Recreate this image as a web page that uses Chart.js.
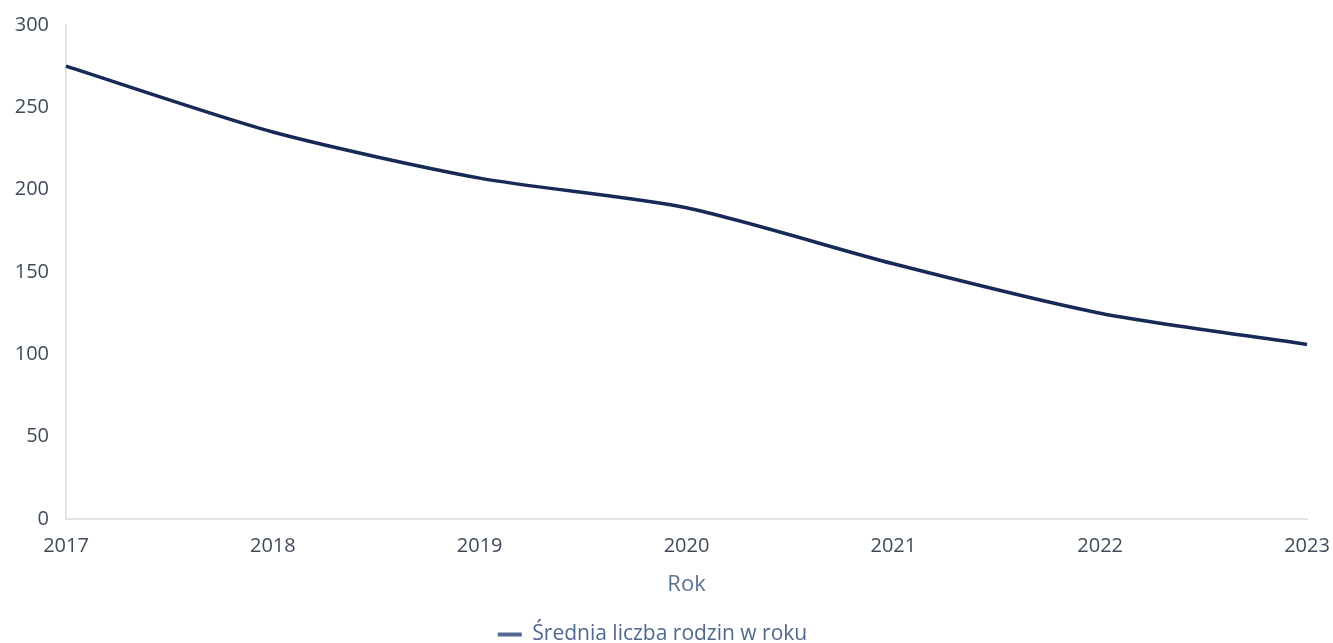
<!DOCTYPE html>
<html>
<head>
<meta charset="utf-8">
<script src="https://cdn.jsdelivr.net/npm/chart.js@4"></script>
<style>
  html, body { margin: 0; padding: 0; background: #fff; }
  #wrap { width: 1333px; height: 643px; }
</style>
</head>
<body>
<div id="wrap"><canvas id="chart"></canvas></div>
<script>
'use strict';

// ─── Data ─────────────────────────────────────────────────────────────────────

const years   = ['2017', '2018', '2019', '2020', '2021', '2022', '2023'];
const average = [275, 235, 207, 189, 155, 125, 106];
const yTicks  = [0, 50, 100, 150, 200, 250, 300];

const seriesLabel = 'Średnia liczba rodzin w roku';
const xTitle      = 'Rok';

// ─── Chart ────────────────────────────────────────────────────────────────────

const FONT = '"Open Sans", "DejaVu Sans", sans-serif';

// legend sits a little left of centre in the original
const legendNudge = {
  id: 'legendNudge',
  afterLayout(chart) {
    if (!chart.legend) return;
    chart.legend.left  -= 18;
    chart.legend.right -= 18;
  },
};

new Chart(document.getElementById('chart'), {
  type: 'line',
  data: {
    labels: years,
    datasets: [{
      label: seriesLabel,
      data: average,
      borderColor: '#172a57',
      backgroundColor: '#5b7294',
      borderWidth: 3.5,
      tension: 0.25,
      pointRadius: 0,
      fill: false,
    }],
  },
  options: {
    responsive: true,
    maintainAspectRatio: false,
    animation: false,
    layout: { padding: { left: 10, right: 2, top: 25, bottom: -12 } },
    scales: {
      x: {
        offset: false,
        afterFit: axis => { axis.paddingRight = 26; },
        grid: { display: false, drawTicks: false },
        border: { color: '#e3e3e3', width: 2 },
        ticks: {
          padding: 17,
          font: { family: FONT, size: 20, lineHeight: 1 },
          color: '#3f4b58',
          maxRotation: 0,
        },
        title: {
          display: true,
          text: xTitle,
          font: { family: FONT, size: 22, lineHeight: 1 },
          color: '#5b7294',
          padding: { top: 1, bottom: 20 },
        },
      },
      y: {
        min: 0,
        max: 300,
        afterBuildTicks: axis => { axis.ticks = yTicks.map(v => ({ value: v })); },
        afterFit: axis => { axis.width = 56; axis.paddingTop = 0; },
        grid: { display: false, drawTicks: false },
        border: { color: '#e3e3e3', width: 2 },
        ticks: {
          padding: 17,
          font: { family: FONT, size: 20 },
          color: '#3f4b58',
        },
      },
    },
    plugins: {
      legend: {
        position: 'bottom',
        labels: {
          usePointStyle: true,
          pointStyle: 'line',
          pointStyleWidth: 24,
          font: { family: FONT, size: 21 },
          color: '#4f6890',
          padding: 8,
          generateLabels: chart => Chart.defaults.plugins.legend.labels.generateLabels(chart)
            .map(item => ({ ...item, strokeStyle: '#52698f', lineWidth: 4 })),
        },
      },
      tooltip: { enabled: false },
    },
  },
  plugins: [legendNudge],
});
</script>
</body>
</html>
